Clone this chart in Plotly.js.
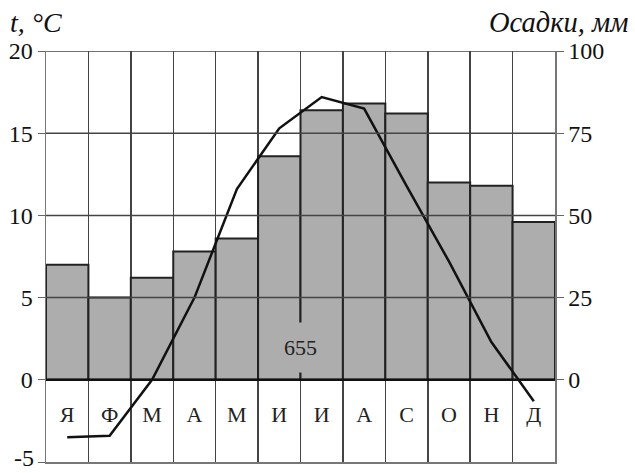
<!DOCTYPE html>
<html><head><meta charset="utf-8">
<script src="https://cdn.plot.ly/plotly-3.0.1.min.js"></script>
<style>body{margin:0;background:#fff}#c{width:635px;height:473px}</style>
</head><body><div id="c"></div>
<script>
const months = ['Я','Ф','М','А','М','И','И','А','С','О','Н','Д'];
const precip = [35, 25, 31, 39, 43, 68, 82, 84, 81, 60, 59, 48];
const temps = [-3.5, -3.4, 0, 5, 11.6, 15.3, 17.2, 16.5, 11.8, 7.2, 2.3, -1.3];
const tempTicks = [-5, 0, 5, 10, 15, 20];
const tempTickText = ['', '0', '5', '10', '15', '20'];
const precipTicks = [0, 25, 50, 75, 100];
const hLines = [5, 10, 15, 20];

const idx = months.map((_, i) => i);
const bounds = [];
for (let i = 0; i <= months.length; i++) bounds.push(i - 0.5);
const total = precip.reduce((a, b) => a + b, 0);

const serif = 'Liberation Serif';

const traces = [
  {type: 'bar', x: idx, y: precip, yaxis: 'y', width: 1,
   marker: {color: '#adadad', line: {color: '#222', width: 2}}, hoverinfo: 'none'},
  {type: 'scatter', mode: 'lines', x: idx, y: temps, yaxis: 'y2',
   line: {color: '#111', width: 2.5}, hoverinfo: 'none'},
  {type: 'scatter', mode: 'text', x: idx, y: idx.map(() => -2.25), text: months,
   textfont: {family: serif, size: 22, color: '#222'}, yaxis: 'y2', hoverinfo: 'none'}
];

const shapes = hLines.map(v => ({type: 'line', xref: 'paper', x0: 0, x1: 1, yref: 'y2', y0: v, y1: v,
  layer: 'above', line: {color: '#444', width: 1.5}}));
shapes.push({type: 'line', xref: 'paper', x0: 0, x1: 1, yref: 'y2', y0: 0, y1: 0,
  layer: 'above', line: {color: '#111', width: 2.5}});

const layout = {
  width: 635, height: 473,
  margin: {l: 46, r: 80, t: 51, b: 11},
  paper_bgcolor: '#fff', plot_bgcolor: '#fff',
  showlegend: false, bargap: 0,
  font: {family: serif, color: '#111'},
  xaxis: {type: 'linear', range: [-0.5, 11.5], tickvals: bounds, showticklabels: false, ticks: '',
    showgrid: true, gridcolor: '#444', gridwidth: 1.5, zeroline: false,
    showline: true, linecolor: '#777', linewidth: 1.5, fixedrange: true},
  yaxis: {range: [-25, 100], tickvals: precipTicks, side: 'right',
    ticks: 'outside', ticklen: 7, tickcolor: '#666',
    tickfont: {family: serif, size: 24, color: '#111'}, showgrid: false, zeroline: false,
    showline: true, linecolor: '#777', linewidth: 1.5, fixedrange: true},
  yaxis2: {range: [-5, 20], tickvals: tempTicks, ticktext: tempTickText, overlaying: 'y', side: 'left',
    ticks: 'outside', ticklen: 7, tickcolor: '#666',
    tickfont: {family: serif, size: 24, color: '#111'}, showgrid: false, zeroline: false,
    showline: true, linecolor: '#777', linewidth: 1.5, fixedrange: true},
  shapes: shapes,
  annotations: [
    {text: String(total), xref: 'x', yref: 'y2', x: 5.5, y: 1.95, showarrow: false,
     font: {family: serif, size: 22, color: '#222'}, bgcolor: '#adadad', borderpad: 12},
    {text: String(tempTicks[0]), xref: 'paper', yref: 'paper', x: -0.0196, y: -0.0268,
     xanchor: 'right', yanchor: 'bottom', showarrow: false,
     font: {family: serif, size: 24, color: '#111'}},
    {text: '<i>t, °C</i>', xref: 'paper', yref: 'paper', x: -0.074, y: 1.07,
     xanchor: 'left', yanchor: 'middle', showarrow: false,
     font: {family: serif, size: 28, color: '#111'}},
    {text: '<i>Осадки, мм</i>', xref: 'paper', yref: 'paper', x: 1.148, y: 1.07,
     xanchor: 'right', yanchor: 'middle', showarrow: false,
     font: {family: serif, size: 28.5, color: '#111'}}
  ]
};

Plotly.newPlot('c', traces, layout, {displayModeBar: false, staticPlot: true});
</script></body></html>
